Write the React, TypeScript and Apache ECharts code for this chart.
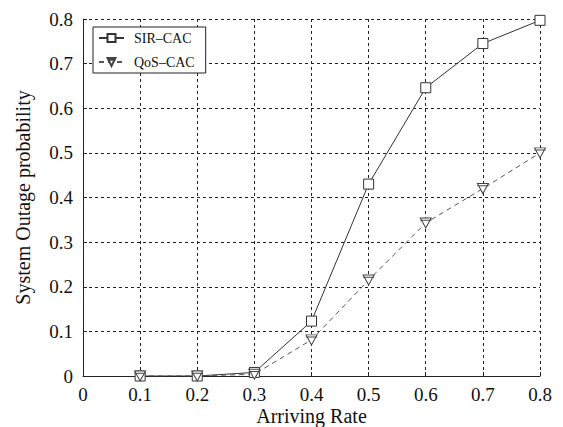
import React, { useEffect, useRef } from "react";
import * as echarts from "echarts";

const xValues = [0.1, 0.2, 0.3, 0.4, 0.5, 0.6, 0.7, 0.8];
const sirCac = [0, 0, 0.008, 0.123, 0.43, 0.646, 0.745, 0.797];
const qosCac = [0, 0, 0.004, 0.081, 0.215, 0.343, 0.42, 0.5];
const seriesNames = ["SIR\u2013CAC", "QoS\u2013CAC"];

const FONT = "'Liberation Serif', 'DejaVu Serif', serif";

export default function App() {
  const ref = useRef<HTMLDivElement>(null);
  useEffect(() => {
    if (!ref.current) return;
    const chart = echarts.init(ref.current, undefined, { renderer: "svg" });
    chart.setOption({
      animation: false,
      backgroundColor: "#ffffff",
      grid: { left: 83, right: 23, top: 19, bottom: 51, containLabel: false, outerBoundsMode: "none" },
      legend: {
        orient: "vertical",
        left: 93,
        top: 27,
        padding: [4, 11, 4, 5],
        itemGap: 10,
        itemWidth: 25,
        itemHeight: 10,
        borderColor: "#222",
        borderWidth: 1,
        borderRadius: 0,
        backgroundColor: "#fff",
        textStyle: { fontFamily: FONT, fontSize: 14, color: "#111", padding: [0, 0, 0, 5] },
        data: seriesNames,
      },
      xAxis: {
        type: "value",
        min: 0,
        max: 0.8,
        interval: 0.1,
        axisLine: { show: true, lineStyle: { color: "#222", width: 1 } },
        axisTick: { show: true, inside: true, length: 4, lineStyle: { color: "#222" } },
        axisLabel: {
          fontFamily: FONT,
          fontSize: 19,
          color: "#111",
          margin: 9,
          formatter: (v: number) => (Math.round(v * 10) / 10).toString(),
        },
        splitLine: { show: true, lineStyle: { color: "#222", type: [3, 3], width: 1 } },
        name: "Arriving Rate",
        nameLocation: "middle",
        nameGap: 30,
        nameMoveOverlap: false,
        nameTextStyle: { fontFamily: FONT, fontSize: 20, color: "#111" },
      },
      yAxis: {
        type: "value",
        min: 0,
        max: 0.8,
        interval: 0.1,
        axisLine: { show: true, lineStyle: { color: "#222", width: 1 } },
        axisTick: { show: true, inside: true, length: 4, lineStyle: { color: "#222" } },
        axisLabel: {
          fontFamily: FONT,
          fontSize: 19,
          color: "#111",
          margin: 10,
          formatter: (v: number) => (Math.round(v * 10) / 10).toString(),
        },
        splitLine: { show: true, lineStyle: { color: "#222", type: [3, 3], width: 1 } },
        name: "System Outage probability",
        nameLocation: "middle",
        nameGap: 50,
        nameMoveOverlap: false,
        nameTextStyle: { fontFamily: FONT, fontSize: 20, color: "#111" },
      },
      series: [
        {
          name: seriesNames[0],
          type: "line",
          data: xValues.map((x, i) => [x, sirCac[i]]),
          symbol: "rect",
          symbolSize: 10,
          lineStyle: { color: "#333", width: 1, type: "solid" },
          itemStyle: { color: "#fff", borderColor: "#333", borderWidth: 1 },
        },
        {
          name: seriesNames[1],
          type: "line",
          data: xValues.map((x, i) => [x, qosCac[i]]),
          symbol: "path://M0,0 L10,0 L5,9 Z M0,2 L10,2",
          symbolSize: [11, 10],
          lineStyle: { color: "#555", width: 1, type: [5, 4] },
          itemStyle: { color: "#fff", borderColor: "#444", borderWidth: 1 },
        },
      ],
    });
    return () => chart.dispose();
  }, []);
  return <div ref={ref} style={{ width: 563, height: 427, position: "absolute", left: 0, top: 0 }} />;
}
